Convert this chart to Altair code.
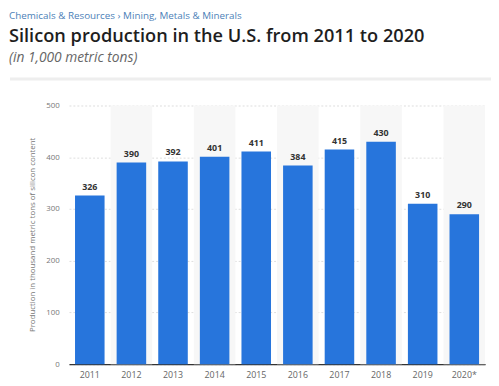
import altair as alt
import pandas as pd

years = ["2011", "2012", "2013", "2014", "2015", "2016", "2017", "2018", "2019", "2020*"]
values = [326, 390, 392, 401, 411, 384, 415, 430, 310, 290]
shaded = [False, True, False, True, False, True, False, True, False, True]
y_max = 500

df = pd.DataFrame({"year": years, "value": values, "shaded": shaded, "top": [y_max] * len(years)})

FONT = "Open Sans"
PI = 0.29
x_scale = alt.Scale(paddingInner=PI, paddingOuter=PI / 2)
x_enc = alt.X("year:N", sort=years, scale=x_scale,
              axis=alt.Axis(title=None, labelAngle=0, labelFontSize=9, labelColor="#666",
                            labelFont=FONT, domainColor="#333", domainWidth=1.2, ticks=False,
                            labelPadding=6, grid=False))
y_scale = alt.Scale(domain=[0, y_max], nice=False)

base = alt.Chart(df)

bands = base.transform_filter("datum.shaded").mark_bar(
    color="#f7f7f7", width=alt.RelativeBandSize(1 / (1 - PI))
).encode(x=x_enc, y=alt.Y("top:Q", scale=y_scale), y2=alt.datum(0))

bars = base.mark_bar(color="#2775dc").encode(
    x=x_enc,
    y=alt.Y("value:Q", scale=y_scale,
            axis=alt.Axis(values=[0, 100, 200, 300, 400, 500], title="Production in thousand metric tons of silicon content",
                          titleFontSize=8, titleFontWeight="normal", titleColor="#777", titleFont=FONT,
                          titleX=-33, titleY=131, titleAngle=270, titleAlign="center",
                          labelFontSize=8, labelColor="#777", labelFont=FONT, labelPadding=10,
                          ticks=False, domain=False, gridColor="#dddddd", gridDash=[2, 2], gridWidth=1)),
)

labels = base.mark_text(dy=-9, fontSize=9, fontWeight="bold", color="#333", font=FONT).encode(
    x=alt.X("year:N", sort=years, scale=x_scale), y=alt.Y("value:Q", scale=y_scale), text="value:Q"
)

hdr = pd.DataFrame({"a": [0]})
breadcrumb = alt.Chart(hdr).mark_text(
    text="Chemicals & Resources \u203a  Mining, Metals & Minerals", align="left", baseline="middle",
    fontSize=10, color="#4d7fb8", font=FONT
).encode(x=alt.value(-61), y=alt.value(-91))
title = alt.Chart(hdr).mark_text(
    text="Silicon production in the U.S. from 2011 to 2020", align="left", baseline="alphabetic",
    fontSize=18.5, fontWeight=600, color="#1e1e1e", font=FONT
).encode(x=alt.value(-61), y=alt.value(-65))
subtitle = alt.Chart(hdr).mark_text(
    text="(in 1,000 metric tons)", align="left", baseline="alphabetic",
    fontSize=14, fontStyle="italic", color="#666", font=FONT
).encode(x=alt.value(-61), y=alt.value(-44))
card_edge = alt.Chart(hdr).mark_rule(color="#eeeeee", strokeWidth=3).encode(
    x=alt.value(-60), x2=alt.value(430), y=alt.value(-27))

chart = alt.layer(card_edge, bands, bars, labels, breadcrumb, title, subtitle).properties(
    width=423, height=263, padding={"left": 62, "top": 96, "right": 6, "bottom": 18},
    autosize=alt.AutoSizeParams(type="none")
).configure_view(stroke=None)

chart.save("out.html", embed_options={"renderer": "svg", "actions": False})
